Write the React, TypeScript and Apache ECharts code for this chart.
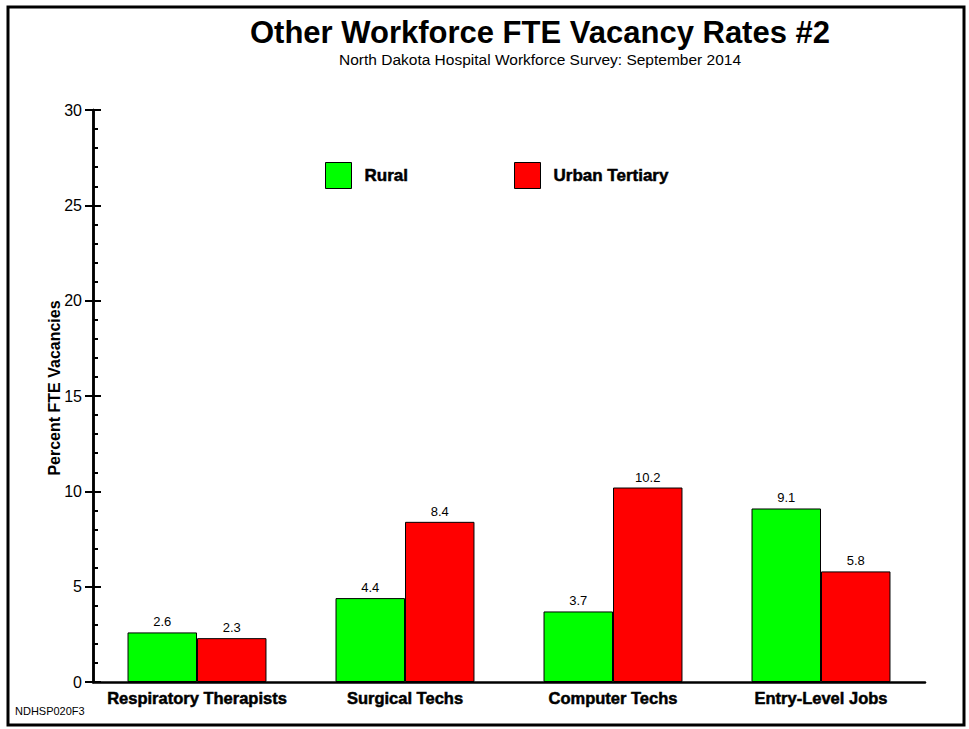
import React, { useEffect, useRef } from "react";
import * as echarts from "echarts";

const categories = ["Respiratory Therapists", "Surgical Techs", "Computer Techs", "Entry-Level Jobs"];
const ruralValues = [2.6, 4.4, 3.7, 9.1];
const urbanValues = [2.3, 8.4, 10.2, 5.8];
const seriesNames = ["Rural", "Urban Tertiary"];
const yTicks = { min: 0, max: 30, interval: 5 };
const titleText = "Other Workforce FTE Vacancy Rates #2";
const subtitleText = "North Dakota Hospital Workforce Survey: September 2014";
const yAxisTitle = "Percent FTE Vacancies";
const footerText = "NDHSP020F3";

const FONT = "'Liberation Sans', Arial, Helvetica, sans-serif";

export default function App() {
  const ref = useRef<HTMLDivElement>(null);
  useEffect(() => {
    if (!ref.current) return;
    const chart = echarts.init(ref.current, null, { renderer: "svg" });
    const labelStyle = {
      show: true,
      position: "top",
      distance: 4,
      color: "#000",
      fontSize: 13,
      fontFamily: FONT,
      formatter: (p: any) => Number(p.value).toFixed(1),
    };
    const legendBase = {
      top: 162,
      padding: 0,
      icon: "rect",
      itemWidth: 26,
      itemHeight: 26,
      itemStyle: { borderColor: "#000", borderWidth: 1 },
      textStyle: {
        fontSize: 17,
        fontWeight: "bold",
        color: "#000",
        fontFamily: FONT,
        padding: [0, 0, 0, 8],
        textBorderColor: "#000",
        textBorderWidth: 0.5,
      },
      selectedMode: false,
    };
    chart.setOption({
      animation: false,
      backgroundColor: "#fff",
      textStyle: { fontFamily: FONT },
      grid: { left: 93, right: 44, top: 110, bottom: 47, containLabel: false },
      legend: [
        { ...legendBase, data: [seriesNames[0]], left: 325 },
        { ...legendBase, data: [seriesNames[1]], left: 514 },
      ],
      xAxis: {
        type: "category",
        data: categories,
        axisLine: { show: true, lineStyle: { color: "#000", width: 2.5 } },
        axisTick: { show: false },
        axisLabel: {
          color: "#000",
          fontSize: 16.5,
          fontWeight: "bold",
          fontFamily: FONT,
          margin: 7,
          interval: 0,
          textBorderColor: "#000",
          textBorderWidth: 0.5,
        },
        splitLine: { show: false },
      },
      yAxis: [
        {
          type: "value",
          min: yTicks.min,
          max: yTicks.max,
          interval: yTicks.interval,
          position: "left",
          axisLine: { show: true, lineStyle: { color: "#000", width: 2.5 } },
          axisTick: { show: true, length: 8, lineStyle: { color: "#000", width: 2 } },
          axisLabel: { color: "#000", fontSize: 16, fontFamily: FONT, margin: 11 },
          splitLine: { show: false },
        },
        {
          type: "value",
          min: yTicks.min,
          max: yTicks.max,
          interval: yTicks.interval,
          position: "left",
          offset: 0,
          axisLine: { show: true, onZero: false, lineStyle: { color: "#000", width: 2.5 } },
          axisTick: { show: true, inside: true, length: 8, lineStyle: { color: "#000", width: 2 } },
          minorTick: { show: true, splitNumber: 5, length: 5, lineStyle: { color: "#000", width: 2 } },
          axisLabel: { show: false },
          splitLine: { show: false },
        },
      ],
      series: [
        {
          name: seriesNames[0],
          type: "bar",
          data: ruralValues,
          yAxisIndex: 0,
          barWidth: "33.4%",
          barGap: "0%",
          itemStyle: { color: "#00ff00", borderColor: "#000", borderWidth: 1 },
          label: labelStyle,
        },
        {
          name: seriesNames[1],
          type: "bar",
          data: urbanValues,
          yAxisIndex: 0,
          barWidth: "33.4%",
          barGap: "0%",
          itemStyle: { color: "#ff0000", borderColor: "#000", borderWidth: 1 },
          label: labelStyle,
        },
      ],
      graphic: [
        {
          type: "rect",
          shape: { x: 8, y: 7, width: 956, height: 718 },
          style: { fill: "none", stroke: "#000", lineWidth: 3 },
          z: 100,
        },
        {
          type: "text",
          x: 540,
          y: 32,
          style: {
            text: titleText,
            font: `bold 31px ${FONT}`,
            fill: "#000",
            textAlign: "center",
            textVerticalAlign: "middle",
          },
        },
        {
          type: "text",
          x: 540,
          y: 59,
          style: {
            text: subtitleText,
            font: `15.5px ${FONT}`,
            fill: "#000",
            textAlign: "center",
            textVerticalAlign: "middle",
          },
        },
        {
          type: "text",
          x: 54,
          y: 388,
          rotation: Math.PI / 2,
          style: {
            text: yAxisTitle,
            font: `bold 16px ${FONT}`,
            fill: "#000",
            textAlign: "center",
            textVerticalAlign: "middle",
          },
        },
        {
          type: "text",
          x: 15,
          y: 711,
          style: {
            text: footerText,
            font: `11px ${FONT}`,
            fill: "#000",
            textAlign: "left",
            textVerticalAlign: "middle",
          },
        },
      ],
    });
    return () => chart.dispose();
  }, []);
  return (
    <div
      ref={ref}
      style={{ position: "fixed", left: 0, top: 0, width: 969, height: 729, background: "#fff" }}
    />
  );
}
